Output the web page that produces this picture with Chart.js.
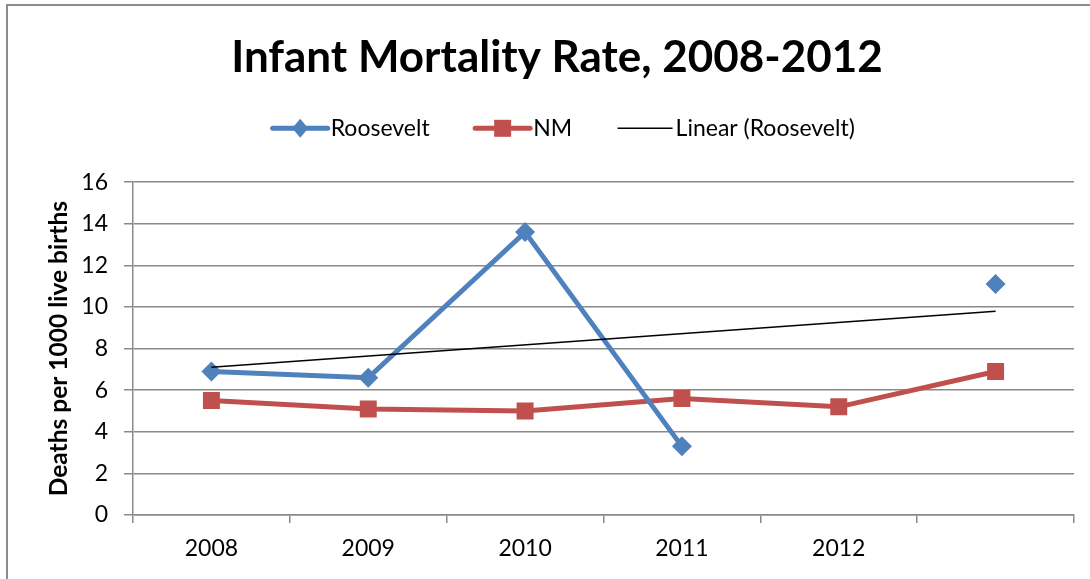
<!DOCTYPE html>
<html>
<head>
<meta charset="utf-8">
<script src="https://cdn.jsdelivr.net/npm/chart.js@4/dist/chart.umd.min.js"></script>
<style>
  html, body { margin: 0; padding: 0; background: #ffffff; }
  #wrap { width: 1090px; height: 579px; position: relative; }
</style>
</head>
<body>
<div id="wrap"><canvas id="c" width="1090" height="579"></canvas></div>
<script>
const categories = ['2008', '2009', '2010', '2011', '2012', ''];
const roosevelt = [6.9, 6.6, 13.6, 3.3, null, 11.1];
const nm = [5.5, 5.1, 5.0, 5.6, 5.2, 6.9];
const linearRoosevelt = [7.1, null, null, null, null, 9.8];
const yTicks = [0, 2, 4, 6, 8, 10, 12, 14, 16];

const FONT = 'Lato, "Open Sans", sans-serif';
const BLUE = '#4F81BD';
const RED = '#C0504D';
const GRID = '#8a8a8a';
const LEGEND_FONT = 23;

const framePlugin = {
  id: 'frame',
  beforeDraw(chart) {
    const ctx = chart.ctx;
    ctx.save();
    ctx.fillStyle = '#ffffff';
    ctx.fillRect(0, 0, chart.width, chart.height);
    ctx.strokeStyle = '#8c8c8c';
    ctx.lineWidth = 2;
    ctx.strokeRect(7, 5, 1200, 700);
    ctx.restore();
  }
};

const legendMarkers = {
  id: 'legendMarkers',
  afterDraw(chart) {
    const lg = chart.legend;
    if (!lg || !lg.legendHitBoxes) return;
    const ctx = chart.ctx;
    const bw = lg.options.labels.boxWidth;
    lg.legendItems.forEach((item, i) => {
      const hb = lg.legendHitBoxes[i];
      const ds = chart.data.datasets[item.datasetIndex];
      const cy = hb.top + hb.height / 2;
      const x1 = hb.left + bw + LEGEND_FONT / 2 - 3;
      const x0 = x1 - 55;
      ctx.save();
      ctx.strokeStyle = ds.borderColor;
      ctx.lineWidth = ds.borderWidth;
      ctx.lineCap = ds.borderWidth > 2 ? 'round' : 'butt';
      ctx.beginPath();
      ctx.moveTo(x0, cy);
      ctx.lineTo(x1, cy);
      ctx.stroke();
      const cx = (x0 + x1) / 2;
      ctx.fillStyle = ds.pointBackgroundColor || ds.borderColor;
      if (ds.pointStyle === 'rectRot') {
        ctx.beginPath();
        ctx.moveTo(cx, cy - 9.5);
        ctx.lineTo(cx + 8, cy);
        ctx.lineTo(cx, cy + 9.5);
        ctx.lineTo(cx - 8, cy);
        ctx.closePath();
        ctx.fill();
      } else if (ds.pointStyle === 'rect') {
        ctx.fillRect(cx - 8.5, cy - 8.5, 17, 17);
      }
      ctx.restore();
    });
  }
};

new Chart(document.getElementById('c'), {
  type: 'line',
  data: {
    labels: categories,
    datasets: [
      {
        label: 'Linear (Roosevelt)',
        data: linearRoosevelt,
        borderColor: '#000000',
        backgroundColor: '#000000',
        borderWidth: 1.5,
        pointRadius: 0,
        pointHoverRadius: 0,
        spanGaps: true,
        order: 0,
        pointStyle: 'line'
      },
      {
        label: 'Roosevelt',
        data: roosevelt,
        borderColor: BLUE,
        backgroundColor: BLUE,
        pointBackgroundColor: BLUE,
        pointBorderColor: BLUE,
        borderWidth: 5,
        pointStyle: 'rectRot',
        pointRadius: 10,
        pointBorderWidth: 0,
        spanGaps: false,
        order: 1
      },
      {
        label: 'NM',
        data: nm,
        borderColor: RED,
        backgroundColor: RED,
        pointBackgroundColor: RED,
        pointBorderColor: RED,
        borderWidth: 5,
        pointStyle: 'rect',
        pointRadius: 12,
        pointBorderWidth: 0,
        order: 2
      }
    ]
  },
  options: {
    responsive: false,
    animation: false,
    devicePixelRatio: 1,
    layout: { padding: { left: 40, right: 16, top: 22, bottom: 0 } },
    elements: { line: { tension: 0 } },
    plugins: {
      title: {
        display: true,
        text: 'Infant Mortality Rate, 2008-2012',
        color: '#000000',
        font: { family: FONT, size: 44, weight: 'bold' },
        padding: { top: 9, bottom: 1 }
      },
      subtitle: {
        display: true,
        text: ' ',
        weight: 500,
        position: 'top',
        font: { family: FONT, size: 2 },
        padding: { top: 0, bottom: 30 }
      },
      legend: {
        display: true,
        position: 'top',
        labels: {
          color: '#000000',
          font: { family: FONT, size: LEGEND_FONT },
          boxWidth: 60,
          boxHeight: 14,
          padding: 32,
          sort: (a, b) => {
            const ord = { 'Roosevelt': 0, 'NM': 1, 'Linear (Roosevelt)': 2 };
            return ord[a.text] - ord[b.text];
          },
          generateLabels(chart) {
            return chart.data.datasets.map((ds, i) => ({
              text: ds.label,
              fillStyle: 'rgba(0,0,0,0)',
              strokeStyle: 'rgba(0,0,0,0)',
              lineWidth: 0,
              fontColor: '#000000',
              datasetIndex: i,
              hidden: false
            }));
          }
        }
      },
      tooltip: { enabled: false }
    },
    scales: {
      x: {
        offset: true,
        grid: {
          display: true,
          offset: true,
          drawOnChartArea: false,
          drawTicks: true,
          tickLength: 8,
          color: GRID,
          lineWidth: 1.5
        },
        border: { display: true, color: GRID, width: 1.5 },
        ticks: {
          color: '#000000',
          font: { family: FONT, size: 23 },
          padding: 12,
          maxRotation: 0,
          autoSkip: false
        },
        afterFit(scale) { scale.height = 64; }
      },
      y: {
        min: 0,
        max: 16,
        afterBuildTicks(scale) { scale.ticks = yTicks.map(v => ({ value: v })); },
        grid: {
          color: GRID,
          lineWidth: 1.5,
          drawTicks: true,
          tickLength: 9
        },
        border: { display: true, color: GRID, width: 1.5 },
        ticks: {
          color: '#000000',
          font: { family: FONT, size: 23 },
          padding: 16
        },
        title: {
          display: true,
          text: 'Deaths per 1000 live births',
          color: '#000000',
          font: { family: FONT, size: 24.5, weight: 'bold' },
          padding: { top: 4, bottom: 4 }
        },
        afterFit(scale) { scale.width = 93; }
      }
    }
  },
  plugins: [framePlugin, legendMarkers]
});
</script>
</body>
</html>
